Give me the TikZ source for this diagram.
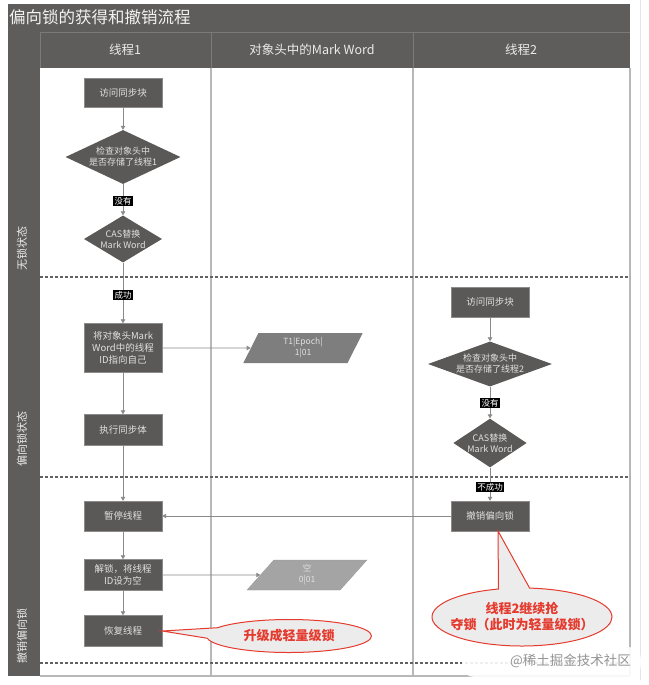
\documentclass[tikz,border=0pt]{standalone}
\usepackage{fontspec}
\setmainfont{Noto Sans CJK SC}
\usetikzlibrary{shapes.geometric,shapes.callouts,arrows.meta}
\definecolor{framec}{HTML}{5F5D5B}
\definecolor{boxc}{HTML}{5B5957}
\definecolor{sepc}{HTML}{7C7A78}
\definecolor{lanec}{HTML}{B8B8B8}
\definecolor{arrc}{HTML}{8A8A8A}
\definecolor{callred}{HTML}{E53A2E}
\definecolor{callfill}{HTML}{ECECEC}
\definecolor{dataA}{HTML}{7E7E7E}
\definecolor{dataB}{HTML}{A4A4A4}
\tikzset{
  stepbox/.style={draw=boxc!70!white, fill=boxc, text=white!88!black, minimum width=78pt, minimum height=30pt, inner sep=1pt, align=center, font=\fontsize{9.5}{12}\selectfont},
  decide/.style={diamond, fill=boxc, text=white!88!black, inner sep=0pt, align=center, font=\fontsize{9}{11}\selectfont},
  datab/.style={trapezium, trapezium left angle=72, trapezium right angle=108, trapezium stretches=true, minimum width=120pt, minimum height=30pt, inner sep=0pt, align=center, text=white!88!black, font=\fontsize{8.5}{11}\selectfont},
  tagl/.style={fill=black, text=white, inner sep=1.5pt, font=\fontsize{8.5}{9}\selectfont},
  flow/.style={draw=arrc, line width=0.8pt, -{Triangle[length=4pt,width=4.5pt]}},
  divider/.style={draw=black!62, dash pattern=on 3pt off 2pt, line width=1.3pt},
  lanel/.style={draw=lanec, line width=1.2pt},
  sepl/.style={draw=sepc, line width=1pt},
  balloon/.style={ellipse callout, draw=callred, line width=1pt, fill=callfill, text=callred, align=center, font=\fontsize{13}{16}\selectfont\bfseries},
  header/.style={text=white!92!black, font=\fontsize{12.5}{14}\selectfont},
  statel/.style={rotate=90, anchor=west, text=white!92!black, font=\fontsize{11}{13}\selectfont},
}
\begin{document}
\begin{tikzpicture}[x=1pt,y=-1pt]
\useasboundingbox (0,0) rectangle (648,685);
\fill[white] (0,0) rectangle (648,685);
\draw[black!10, line width=1pt] (640,0) -- (640,680);
% frame
\fill[white] (40,68) rectangle (630,676);
\fill[framec] (8,4) rectangle (630,68);
\fill[framec] (8,68) rectangle (40,676);
\draw[sepl] (40,33) -- (630,33);
\draw[sepl] (40,33) -- (40,68);
\draw[sepl] (211,33) -- (211,68);
\draw[sepl] (413,33) -- (413,68);
\draw[lanel] (211,68) -- (211,676);
\draw[lanel] (413,68) -- (413,676);
\draw[lanel] (630,68) -- (630,676);
\draw[lanel] (40,676) -- (630,676);
\draw[divider] (40,277) -- (630,277);
\draw[divider] (40,477) -- (630,477);
\draw[divider] (40,663) -- (630,663);
% title and headers
\node[anchor=west, text=white!95!black, font=\fontsize{16.5}{18}\selectfont, inner sep=0pt] (title) at (9,17) {偏向锁的获得和撤销流程};
\node[header] (h1) at (125,50) {线程1};
\node[header] (h2) at (312,50) {对象头中的Mark Word};
\node[header] (h3) at (521,50) {线程2};
\node[statel] (s1) at (22,274) {无锁状态};
\node[statel] (s2) at (22,470) {偏向锁状态};
\node[statel] (s3) at (22,667) {撤销偏向锁};
% thread 1
\node[stepbox, minimum height=29pt] (a1) at (123,92.5) {访问同步块};
\node[decide, aspect=2.13, minimum width=115pt, minimum height=54pt] (d1) at (123,157) {检查对象头中\\是否存储了线程1};
\node[decide, aspect=1.66, minimum width=78pt, minimum height=47pt] (d2) at (123,239) {CAS替换\\Mark Word};
\node[stepbox, minimum height=49pt] (a2) at (123,348) {将对象头Mark\\Word中的线程\\ID指向自己};
\node[stepbox, minimum height=31pt] (a3) at (123,430) {执行同步体};
\node[stepbox] (a4) at (123,516) {暂停线程};
\node[stepbox, minimum height=31pt] (a5) at (123,575) {解锁，将线程\\ID设为空};
\node[stepbox, minimum height=31pt] (a6) at (123,631) {恢复线程};
% mark word
\node[datab, fill=dataA] (p1) at (303,348) {T1|Epoch|\\1|01};
\node[datab, fill=dataB, draw=black!40] (p2) at (307,575) {空\\0|01};
% thread 2
\node[stepbox] (b1) at (490,302) {访问同步块};
\node[decide, aspect=2.75, minimum width=124pt, minimum height=45pt] (e1) at (490,364) {检查对象头中\\是否存储了线程2};
\node[decide, aspect=1.5, minimum width=70pt, minimum height=47pt] (e2) at (490,443) {CAS替换\\Mark Word};
\node[stepbox] (b2) at (490,516) {撤销偏向锁};
\coordinate (tip2) at (498,531);
% connectors
\draw[flow] (a1) -- (d1);
\draw[flow] (d1.south) -- (d2.north);
\draw[flow] (d2.south) -- (a2.north);
\draw[flow] (a2) -- (a3);
\draw[flow] (a3) -- (a4);
\draw[flow] (a4) -- (a5);
\draw[flow] (a5) -- (a6);
\draw[flow] (a2.east) -- (p1.west);
\draw[flow] (a5.east) -- (p2.west);
\draw[flow] (b1) -- (e1.north);
\draw[flow] (e1.south) -- (e2.north);
\draw[flow] (e2.south) -- (b2.north);
\draw[flow] (b2.west) -- (a4.east);
% tags
\node[tagl] (t1) at (123,201) {没有};
\node[tagl] (t2) at (123,295) {成功};
\node[tagl] (t3) at (490,403) {没有};
\node[tagl] (t4) at (490,487) {不成功};
% callouts
\node[balloon, minimum width=165pt, minimum height=33pt, callout absolute pointer={(a6.east)}, callout pointer arc=38] (c1) at (289,636) {升级成轻量级锁};
\node[balloon, inner xsep=-8pt, inner ysep=0pt, minimum width=180pt, minimum height=58pt, callout absolute pointer={(tip2)}, callout pointer arc=20] (c2) at (522,617) {线程2继续抢\\夺锁（此时为轻量级锁）};
% watermark
\fill[white, opacity=0.9, rounded corners=12pt] (462,647) rectangle (641,677);
\node[text=black!42, font=\fontsize{13.5}{15}\selectfont, anchor=east, inner sep=0pt] (wm) at (631,661) {@稀土掘金技术社区};
\end{tikzpicture}
\end{document}
